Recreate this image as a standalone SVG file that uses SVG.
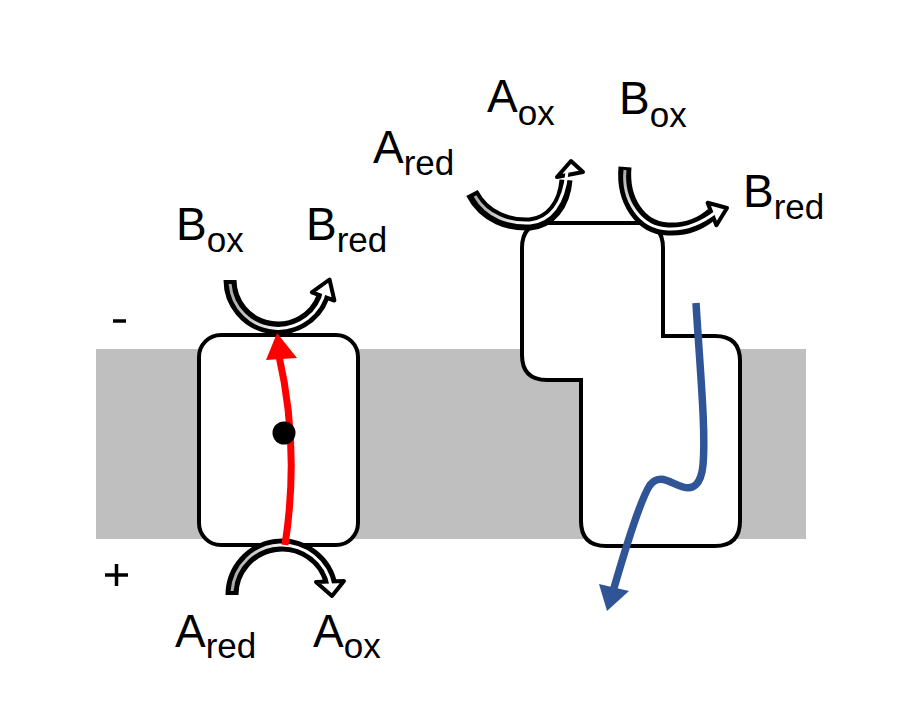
<svg xmlns="http://www.w3.org/2000/svg" width="909" height="711" viewBox="0 0 909 711">
<defs>
<style>
.t{font-family:"Liberation Sans",Arial,sans-serif;font-size:46px;fill:#000}
.s{font-size:35px}
.box{fill:#fff;stroke:#000;stroke-width:4}
.shaft{fill:none;stroke:#000;stroke-width:13}
.inner{fill:none;stroke-width:3}
.head{fill:#fff;stroke:#000;stroke-width:4;stroke-linejoin:round}
.sign{stroke:#000;stroke-width:3.5}
</style>
<linearGradient id="gL" x1="0" y1="0" x2="1" y2="0">
<stop offset="0" stop-color="#a8a8a8"/><stop offset="0.55" stop-color="#ffffff"/><stop offset="1" stop-color="#ffffff"/>
</linearGradient>
<linearGradient id="gB" x1="0" y1="0" x2="1" y2="1">
<stop offset="0" stop-color="#a8a8a8"/><stop offset="0.5" stop-color="#ffffff"/><stop offset="1" stop-color="#ffffff"/>
</linearGradient>
</defs>

<g id="membrane"><rect x="96" y="349" width="710" height="190" fill="#bfbfbf"/></g>

<g id="left-protein"><rect class="box" x="199" y="335" width="159" height="210" rx="22"/></g>

<g id="right-protein"><path class="box" d="M547,223 H638 Q663,223 663,248 V336 H715 Q740,336 740,361 V521 Q740,546 715,546 H606 Q581,546 581,521 V380 H547 Q522,380 522,355 V248 Q522,223 547,223 Z"/></g>

<g id="connectors">
<g id="arc-left-top">
<path class="shaft" d="M230,280 A48,48 0 0 0 323.1,296.4"/>
<polygon class="head" points="311.8,292.3 329.5,279.5 334.4,300.5"/>
<path class="inner" stroke="url(#gL)" d="M230.1,284 A48,48 0 0 0 325,290"/>
</g>
<g id="arc-left-bottom">
<path class="shaft" d="M232,595 A50,50 0 0 1 330.3,582.1"/>
<polygon class="head" points="316,582 332,596 344,581"/>
<path class="inner" stroke="url(#gL)" d="M232.1,591 A50,50 0 0 1 331.2,586.3"/>
</g>
<g id="arc-right-a">
<path class="shaft" d="M472,193 C485,218 510,225 530,224 C550,222 564,205 566,180"/>
<polygon class="head" points="557,177 571,161 583,172"/>
<path class="inner" stroke="url(#gL)" d="M475,196 C487,217 510,224 530,223 C550,221 564,204 567,172"/>
</g>
<g id="arc-right-b">
<path class="shaft" d="M625,167 C622,200 640,228 668,229 C688,230 703,222 712,214"/>
<polygon class="head" points="707.6,202.8 727,208 716.4,225.2"/>
<path class="inner" stroke="url(#gB)" d="M625,170 C622,200 640,228 668,229 C688,230 703,222 716,212"/>
</g>
<g id="red-arrow">
<path d="M285,545 Q300,448 279,356" fill="none" stroke="#ff0000" stroke-width="7"/>
<polygon points="266,360 277,333 297,358" fill="#ff0000"/>
</g>
<g id="blue-arrow">
<path d="M696,303 C700,370 706,430 703,465 C701,485 693,490 683,487 C670,483 660,473 650,485 C640,500 625,550 614,588" fill="none" stroke="#2f5597" stroke-width="7.5"/>
<polygon points="599,584 607,611 629,591" fill="#2f5597"/>
</g>
</g>

<g id="dot"><circle cx="284" cy="433" r="11.5" fill="#000"/></g>

<g id="signs">
<line class="sign" x1="113" y1="321" x2="126" y2="321"/>
<line class="sign" x1="105" y1="575" x2="128" y2="575"/>
<line class="sign" x1="116.5" y1="564" x2="116.5" y2="586"/>
</g>

<g id="labels">
<text class="t" x="176" y="240">B<tspan class="s" dy="12">ox</tspan></text>
<text class="t" x="306" y="240">B<tspan class="s" dy="12">red</tspan></text>
<text class="t" x="175" y="647">A<tspan class="s" dy="11">red</tspan></text>
<text class="t" x="313" y="647">A<tspan class="s" dy="11">ox</tspan></text>
<text class="t" x="373" y="163">A<tspan class="s" dy="12">red</tspan></text>
<text class="t" x="487" y="112">A<tspan class="s" dy="13">ox</tspan></text>
<text class="t" x="619" y="114">B<tspan class="s" dy="13">ox</tspan></text>
<text class="t" x="743" y="207">B<tspan class="s" dy="12">red</tspan></text>
</g>
</svg>
